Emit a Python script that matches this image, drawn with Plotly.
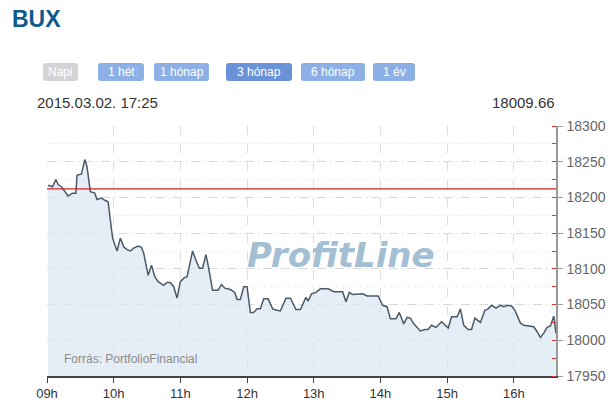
import plotly.graph_objects as go

# ---- data ----
times = ["09:01","09:05","09:08","09:10","09:13","09:19","09:23","09:26","09:27","09:31",
         "09:34","09:36","09:39","09:43","09:45","09:49","09:52","09:55","09:59","10:03",
         "10:06","10:09","10:12","10:15","10:18","10:22","10:25","10:27","10:31","10:34",
         "10:37","10:40","10:45","10:48","10:51","10:54","10:57","11:00","11:03","11:06",
         "11:08","11:11","11:14","11:17","11:20","11:23","11:25","11:29","11:34","11:37",
         "11:40","11:45","11:49","11:51","11:54","11:57","12:00","12:03","12:06","12:09",
         "12:12","12:15","12:19","12:23","12:27","12:30","12:35","12:39","12:44","12:48",
         "12:53","12:55","12:58","13:02","13:06","13:13","13:18","13:22","13:26","13:29",
         "13:32","13:35","13:40","13:44","13:48","13:58","14:02","14:06","14:09","14:14",
         "14:17","14:21","14:24","14:27","14:30","14:36","14:40","14:43","14:46","14:50",
         "14:55","14:58","15:01","15:04","15:09","15:12","15:15","15:19","15:22","15:25",
         "15:30","15:34","15:37","15:40","15:44","15:48","15:51","15:54","15:58","16:01",
         "16:06","16:09","16:13","16:18","16:21","16:24","16:27","16:30","16:33","16:36",
         "16:38"]
values = [18217,18215,18225,18218,18215,18202,18206,18206,18231,18233,
          18253,18243,18208,18206,18197,18199,18196,18194,18143,18125,
          18143,18131,18127,18125,18129,18132,18130,18122,18091,18105,
          18089,18082,18077,18081,18081,18075,18059,18082,18087,18089,
          18103,18125,18112,18101,18101,18120,18105,18070,18070,18078,
          18073,18071,18067,18057,18057,18075,18075,18039,18039,18044,
          18044,18058,18058,18044,18042,18041,18059,18059,18043,18043,
          18060,18055,18065,18067,18072,18072,18068,18068,18068,18054,
          18067,18064,18064,18065,18062,18062,18049,18047,18030,18030,
          18039,18023,18032,18031,18023,18013,18015,18015,18021,18018,
          18026,18022,18017,18033,18033,18044,18021,18015,18015,18031,
          18025,18042,18044,18049,18045,18049,18047,18049,18048,18042,
          18024,18021,18020,18019,18012,18004,18010,18018,18020,18034,
          18009.66]
day = "2015-03-02"
prev_close = 18212
y_ticks = [17950, 18000, 18050, 18100, 18150, 18200, 18250, 18300]
buttons = ["Napi", "1 hét", "1 hónap", "3 hónap", "6 hónap", "1 év"]
title = "BUX"
stamp = "2015.03.02. 17:25"
last_value = "18009.66"
source = "Forrás: PortfolioFinancial"

x = [f"{day} {t}" for t in times]

W, H = 616, 413
L, R, T, B = 47, 60, 126, 37
pw, ph = W - L - R, H - T - B

def px(xp):
    return (xp - L) / pw

def py(yp):
    return 1 - (yp - T) / ph

def rounded(a, b, top, bot, r=3):
    return (f"M {px(a + r)} {py(top)} L {px(b - r)} {py(top)} "
            f"Q {px(b)} {py(top)} {px(b)} {py(top + r)} L {px(b)} {py(bot - r)} "
            f"Q {px(b)} {py(bot)} {px(b - r)} {py(bot)} L {px(a + r)} {py(bot)} "
            f"Q {px(a)} {py(bot)} {px(a)} {py(bot - r)} L {px(a)} {py(top + r)} "
            f"Q {px(a)} {py(top)} {px(a + r)} {py(top)} Z")

fig = go.Figure()
fig.add_trace(go.Scatter(
    x=x, y=values, mode="lines",
    line=dict(color="#4a5967", width=1.5),
    fill="tozeroy", fillcolor="rgba(220,232,243,0.75)",
    hoverinfo="skip", showlegend=False))

fig.add_shape(type="line", xref="paper", yref="y", x0=0, x1=1,
              y0=prev_close, y1=prev_close, line=dict(color="#cc2222", width=1.2))

# buttons
btn_pos = [(43, 78), (98, 144), (154, 209), (226, 292), (301, 365), (373, 415)]
btn_col = ["#d4d4d6", "#8cb0e6", "#8cb0e6", "#6a92d8", "#8cb0e6", "#8cb0e6"]
for (a, b), lab, c in zip(btn_pos, buttons, btn_col):
    fig.add_shape(type="path", xref="paper", yref="paper", path=rounded(a, b, 63, 81),
                  line=dict(width=0), fillcolor=c, layer="above")
    fig.add_annotation(xref="paper", yref="paper", x=(px(a) + px(b)) / 2, y=py(72),
                       text=lab, showarrow=False, xanchor="center", yanchor="middle",
                       font=dict(family="Liberation Sans, Arial", size=12, color="white"))

fig.add_annotation(xref="paper", yref="paper", x=px(10), y=py(19), text=f"<b>{title}</b>",
                   showarrow=False, xanchor="left", yanchor="middle",
                   font=dict(family="Liberation Sans, Arial", size=23, color="#0f5a8c"))
fig.add_annotation(xref="paper", yref="paper", x=px(35), y=py(103), text=stamp,
                   showarrow=False, xanchor="left", yanchor="middle",
                   font=dict(family="Liberation Sans, Arial", size=15, color="#333333"))
fig.add_annotation(xref="paper", yref="paper", x=px(557), y=py(103), text=last_value,
                   showarrow=False, xanchor="right", yanchor="middle",
                   font=dict(family="Liberation Sans, Arial", size=15, color="#333333"))
fig.add_annotation(xref="paper", yref="paper", x=px(62), y=py(359), text=source,
                   showarrow=False, xanchor="left", yanchor="middle",
                   font=dict(family="Liberation Sans, Arial", size=12, color="#8a8a8a"))
fig.add_annotation(xref="paper", yref="paper", x=px(341), y=py(255),
                   text="<b><i>ProfitLine</i></b>",
                   showarrow=False, xanchor="center", yanchor="middle",
                   font=dict(family="DejaVu Sans", size=34, color="rgba(150,182,206,0.9)"))

fig.update_layout(
    width=W, height=H,
    margin=dict(l=L, r=R, t=T, b=B, autoexpand=False),
    paper_bgcolor="white", plot_bgcolor="white",
    xaxis=dict(
        type="date", range=[f"{day} 09:00", f"{day} 16:38"], automargin=False,
        tick0=f"{day} 09:00", dtick=3600000, tickformat="%Hh",
        showgrid=True, gridcolor="#dcdcdc", griddash="dash", gridwidth=1,
        showline=True, linecolor="#444444", linewidth=1.5,
        ticks="outside", ticklen=5, tickcolor="#444444",
        tickfont=dict(family="Liberation Sans, Arial", size=13, color="#333333"),
        zeroline=False, fixedrange=True),
    yaxis=dict(
        side="right", range=[17950, 18300], tickvals=y_ticks, tickformat="d",
        automargin=False, ticklabelstandoff=1,
        showgrid=True, gridcolor="#d8d8d8", griddash="dash", gridwidth=1,
        showline=True, linecolor="#999999", linewidth=1.5,
        ticks="outside", ticklen=5, tickcolor="#999999",
        tickfont=dict(family="Liberation Sans, Arial", size=14, color="#666666"),
        minor=dict(dtick=25, tick0=17975, ticks="inside", ticklen=4, tickcolor="#dd3333",
                   showgrid=True, gridcolor="#efefef", griddash="dot"),
        zeroline=False, fixedrange=True),
)

fig.write_html("out.html", config={"displayModeBar": False},
               post_script="document.body.style.margin='0';document.body.style.padding='0';")
